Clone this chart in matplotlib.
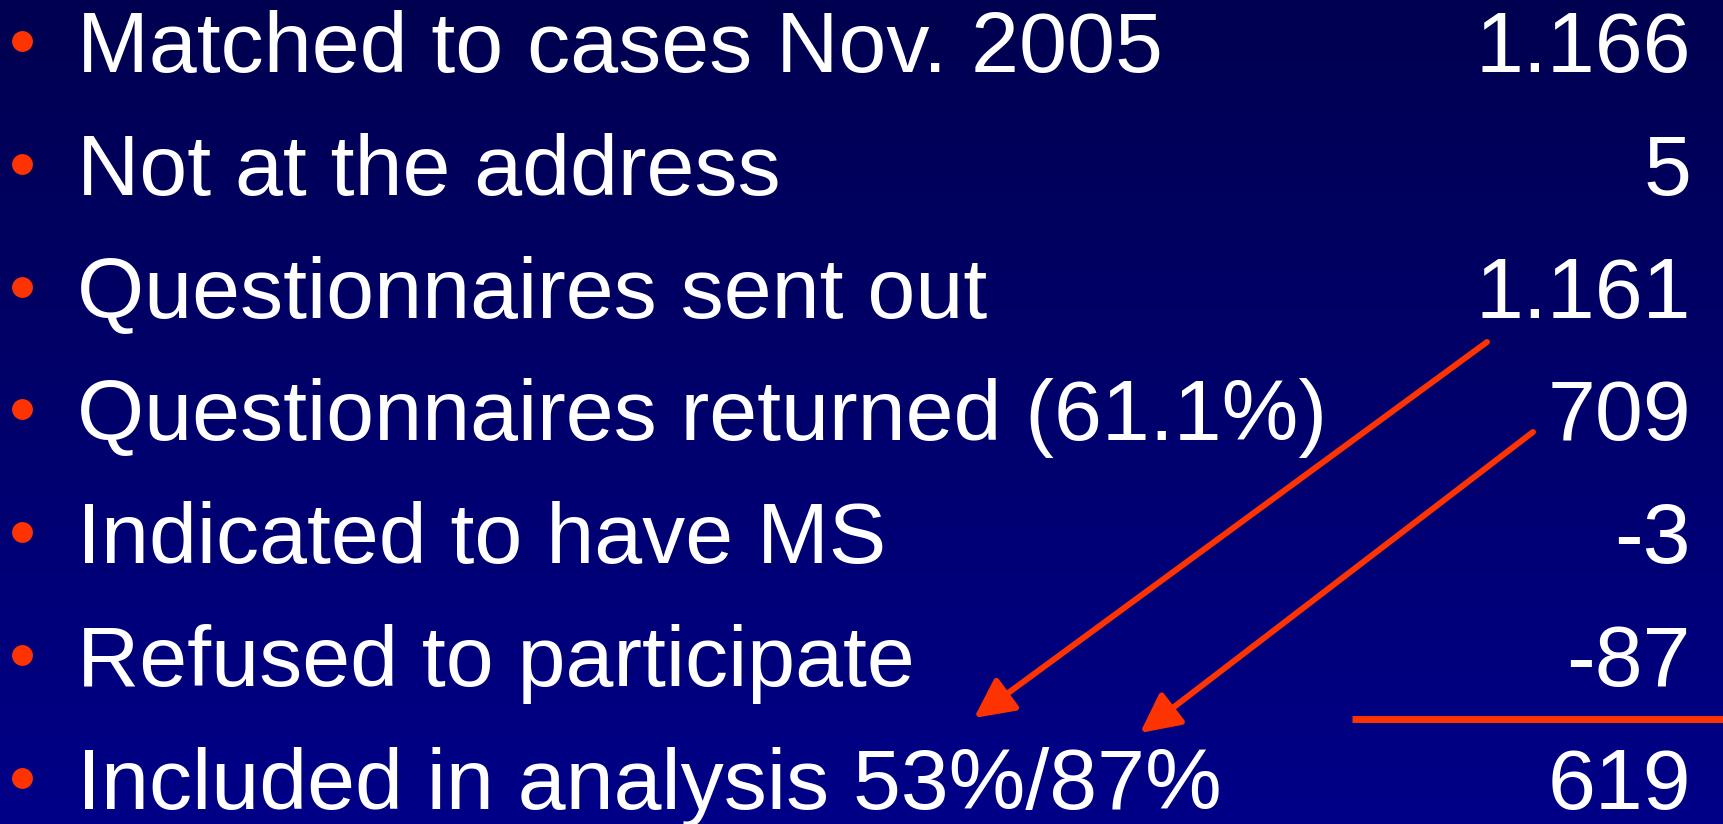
import numpy as np
import matplotlib.pyplot as plt
from matplotlib.colors import LinearSegmentedColormap

# slide rows: label on the left, number on the right
labels = ["Matched to cases Nov. 2005",
          "Not at the address",
          "Questionnaires sent out",
          "Questionnaires returned (61.1%)",
          "Indicated to have MS",
          "Refused to participate",
          "Included in analysis 53%/87%"]
values = ["1.166", "5", "1.161", "709", "-3", "-87", "619"]

W, H = 1723, 824
fig = plt.figure(figsize=(W / 100, H / 100), dpi=100)
ax = fig.add_axes([0, 0, 1, 1])
ax.set_xlim(0, W)
ax.set_ylim(H, 0)
ax.axis("off")

# background gradient, dark navy at top to brighter blue at bottom
cmap = LinearSegmentedColormap.from_list("bg", ["#000050", "#000088"])
grad = np.linspace(0, 1, 256).reshape(-1, 1)
ax.imshow(grad, cmap=cmap, extent=[0, W, H, 0], aspect="auto", zorder=0)

red = "#ff3300"
font = "Liberation Sans"
row_y = 41 + 122.8 * np.arange(len(labels))

ax.plot(np.full(len(labels), 22), row_y, "o", color=red, markersize=15,
        markeredgewidth=0, zorder=2)
for y, lab, val in zip(row_y, labels, values):
    ax.text(77, y + 31, lab, color="white", fontsize=62, family=font,
            va="baseline", ha="left", zorder=3)
    ax.text(1691, y + 31, val, color="white", fontsize=62, family=font,
            va="baseline", ha="right", zorder=3)

# underline above the total
ax.plot([1352, W], [719, 719], color=red, linewidth=5, solid_capstyle="butt", zorder=2)

# arrows pointing to the percentages
for start, end in [((1487, 342), (974, 718)), ((1533, 432), (1140, 733))]:
    ax.annotate("", xy=end, xytext=start,
                arrowprops=dict(arrowstyle="-|>,head_length=0.6,head_width=0.3",
                                color=red, lw=4.3, shrinkA=0, shrinkB=0,
                                mutation_scale=40),
                zorder=4)

fig.savefig("out.png", dpi=100)
